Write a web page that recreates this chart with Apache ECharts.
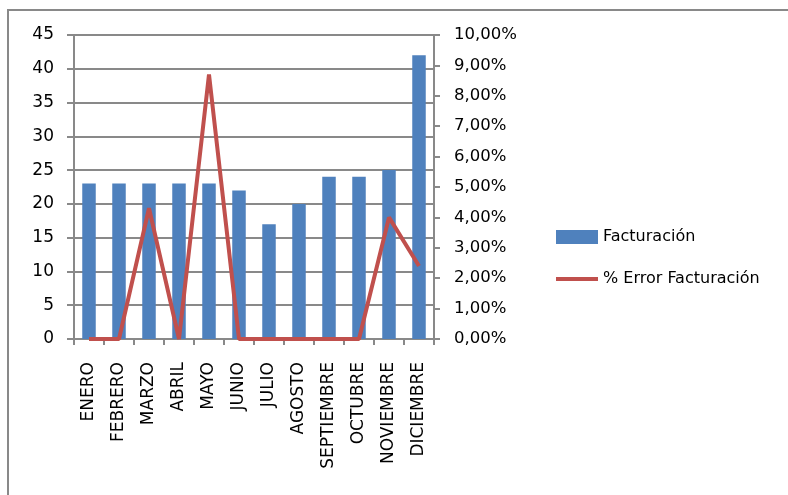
<!DOCTYPE html>
<html>
<head>
<meta charset="utf-8">
<script src="https://cdn.jsdelivr.net/npm/echarts@6/dist/echarts.min.js"></script>
<style>
  html, body { margin: 0; padding: 0; background: #fff; }
  #chart_box { width: 788px; height: 495px; }
</style>
</head>
<body>
<div id="chart_box"></div>
<script>
// datos
var meses = ['ENERO', 'FEBRERO', 'MARZO', 'ABRIL', 'MAYO', 'JUNIO', 'JULIO', 'AGOSTO', 'SEPTIEMBRE', 'OCTUBRE', 'NOVIEMBRE', 'DICIEMBRE'];
var facturacion = [23, 23, 23, 23, 23, 22, 17, 20, 24, 24, 25, 42];
var errorFact = [0, 0, 4.3, 0, 8.7, 0, 0, 0, 0, 0, 4.0, 2.4]; // en %

var myChart1 = echarts.init(document.getElementById('chart_box'));
var gris = '#898989';
var fuente = '"DejaVu Sans", sans-serif';

var option = {
    animation: false,
    backgroundColor: '#fff',
    textStyle: { fontFamily: fuente, color: '#000' },
    graphic: [{
        type: 'rect',
        shape: { x: 8, y: 10, width: 800, height: 500 },
        style: { fill: 'none', stroke: gris, lineWidth: 2 },
        silent: true
    }],
    grid: { left: 74, right: 354, top: 35, bottom: 156 },
    legend: {
        orient: 'vertical',
        left: 551,
        top: 224,
        itemWidth: 42,
        itemHeight: 14,
        itemGap: 26,
        symbolKeepAspect: true,
        textStyle: { fontSize: 16, color: '#000', fontFamily: fuente },
        data: [
            { name: 'Facturación', icon: 'rect' },
            // solo la linea, sin simbolo
            { name: '% Error Facturación', icon: 'path://M0,0 L42,0 L42,4 L0,4 Z' }
        ]
    },
    xAxis: [{
        type: 'category',
        data: meses,
        boundaryGap: true,
        axisLine: { lineStyle: { color: gris, width: 2 } },
        axisTick: { show: true, length: 6, lineStyle: { color: gris, width: 2 } },
        axisLabel: { rotate: 90, fontSize: 17, color: '#000', margin: 23, interval: 0 }
    }],
    yAxis: [
        {
            type: 'value',
            min: 0, max: 45, interval: 5,
            axisLine: { show: true, lineStyle: { color: gris, width: 2 } },
            axisTick: { show: true, length: 7, lineStyle: { color: gris, width: 2 } },
            splitLine: { lineStyle: { color: gris, width: 2 } },
            axisLabel: { fontSize: 17, color: '#000', margin: 20 }
        },
        {
            type: 'value',
            min: 0, max: 10, interval: 1,
            position: 'right',
            axisLine: { show: true, lineStyle: { color: gris, width: 2 } },
            axisTick: { show: true, length: 6, lineStyle: { color: gris, width: 2 } },
            splitLine: { show: false },
            axisLabel: {
                fontSize: 16.5, color: '#000', margin: 20,
                formatter: function (v) { return v.toFixed(2).replace('.', ',') + '%'; }
            }
        }
    ],
    series: [
        {
            name: 'Facturación',
            type: 'bar',
            data: facturacion,
            barWidth: '45%',
            itemStyle: { color: '#4F81BD' }
        },
        {
            name: '% Error Facturación',
            type: 'line',
            yAxisIndex: 1,
            data: errorFact,
            symbol: 'none',
            lineStyle: { color: '#C0504D', width: 4 },
            itemStyle: { color: '#C0504D' },
            z: 3
        }
    ]
};
myChart1.setOption(option);
</script>
</body>
</html>
